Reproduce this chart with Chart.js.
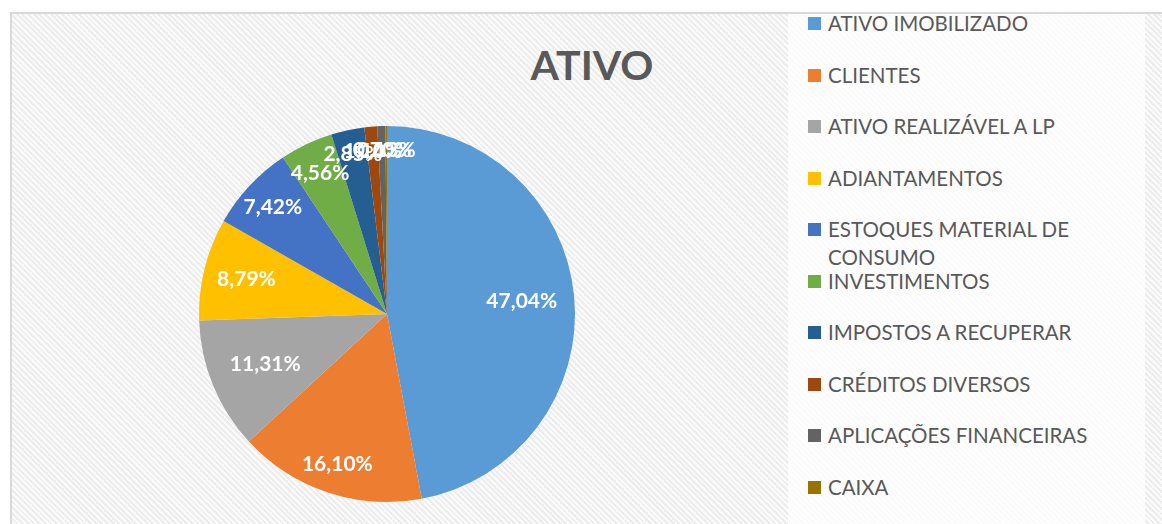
<!DOCTYPE html>
<html>
<head>
<meta charset="utf-8">
<script src="https://cdn.jsdelivr.net/npm/chart.js@4.4.0/dist/chart.umd.min.js"></script>
<style>
    body { margin: 0; width: 1162px; height: 524px; overflow: hidden; background: #fff; font-family: Lato, "Open Sans", sans-serif; }
    #frame {
        position: absolute; left: 10px; top: 12px; width: 1160px; height: 520px;
        border-left: 2px solid #d9d9d9; border-top: 2px solid #d9d9d9;
        background: repeating-linear-gradient(45deg, #fbfbfb 0px, #fbfbfb 2px, #ededed 2px, #ededed 4px);
    }
    #legendBox {
        position: absolute; left: 776px; top: 0; width: 357px; height: 520px;
        background: rgba(255, 255, 255, 0.75);
    }
    #title {
        position: absolute; left: 480px; top: 24px; width: 200px; text-align: center;
        font-weight: bold; font-size: 41px; color: #595959; line-height: 54px;
    }
    #chartWrap { position: absolute; left: 0; top: 0; width: 776px; height: 512px; }
    .item { position: absolute; left: 20px; font-size: 20.5px; color: #595959; line-height: 28px; width: 300px; }
    .item span.box { position: absolute; left: 0; top: 8px; width: 13px; height: 13px; }
    .item span.txt { position: absolute; left: 20px; top: 0; white-space: normal; width: 260px; }
</style>
</head>
<body>
<div id="frame">
    <div id="legendBox"></div>
    <div id="title">ATIVO</div>
    <div id="chartWrap"><canvas id="pieChart"></canvas></div>
</div>
<script>
// categories and values (% of total ativo)
const categories = [
    'ATIVO IMOBILIZADO',
    'CLIENTES',
    'ATIVO REALIZÁVEL A LP',
    'ADIANTAMENTOS',
    'ESTOQUES MATERIAL DE CONSUMO',
    'INVESTIMENTOS',
    'IMPOSTOS A RECUPERAR',
    'CRÉDITOS DIVERSOS',
    'APLICAÇÕES FINANCEIRAS',
    'CAIXA'
];
const values = [47.04, 16.10, 11.31, 8.79, 7.42, 4.56, 2.85, 1.10, 0.70, 0.13];
const colors = ['#5b9bd5', '#ed7d31', '#a5a5a5', '#ffc000', '#4472c4', '#70ad47', '#255e91', '#9e480e', '#636363', '#997300'];

// where each percent label sits, as a fraction of the radius
const labelRadius = [0.72, 0.84, 0.70, 0.77, 0.83, 0.83, 0.87, 0.87, 0.87, 0.87];

// build the legend
const legendBox = document.getElementById('legendBox');
categories.forEach((cat, i) => {
    const item = document.createElement('div');
    item.className = 'item';
    item.style.top = (-5 + i * 51.5) + 'px';
    item.innerHTML = '<span class="box" style="background:' + colors[i] + '"></span><span class="txt">' + cat + '</span>';
    legendBox.appendChild(item);
});

// percent labels inside the slices
const pctLabels = {
    id: 'pctLabels',
    afterDatasetsDraw(chart) {
        const ctx = chart.ctx;
        const meta = chart.getDatasetMeta(0);
        ctx.save();
        ctx.font = 'bold 21px Lato, "Open Sans", sans-serif';
        ctx.fillStyle = '#fff';
        ctx.textAlign = 'center';
        ctx.textBaseline = 'middle';
        meta.data.forEach((arc, i) => {
            const mid = (arc.startAngle + arc.endAngle) / 2;
            const r = arc.outerRadius * labelRadius[i];
            const x = arc.x + Math.cos(mid) * r;
            const y = arc.y + Math.sin(mid) * r;
            ctx.fillText(values[i].toFixed(2).replace('.', ',') + '%', x, y);
        });
        ctx.restore();
    }
};

new Chart(document.getElementById('pieChart'), {
    type: 'pie',
    data: {
        labels: categories,
        datasets: [{
            data: values,
            backgroundColor: colors,
            borderWidth: 0
        }]
    },
    options: {
        responsive: true,
        maintainAspectRatio: false,
        animation: false,
        layout: { padding: { left: 187, right: 213, top: 112, bottom: 24 } },
        plugins: {
            legend: { display: false },
            tooltip: { enabled: false }
        }
    },
    plugins: [pctLabels]
});
</script>
</body>
</html>
